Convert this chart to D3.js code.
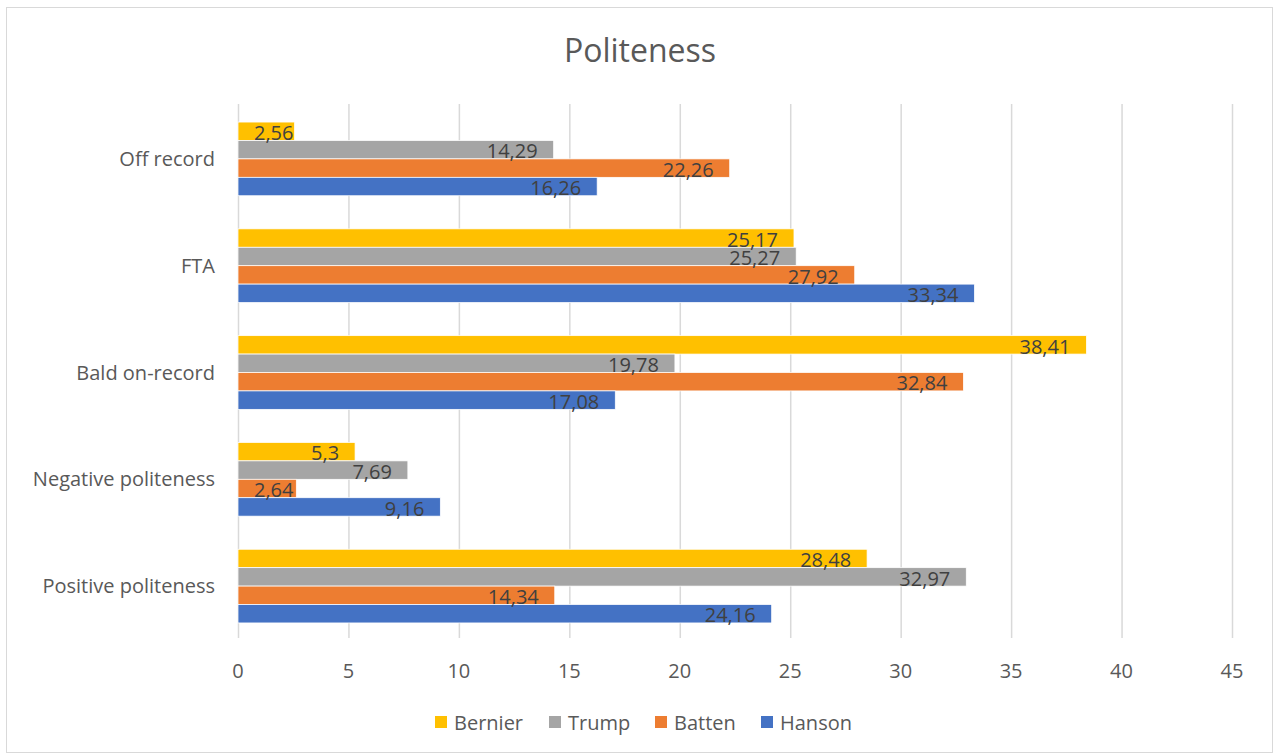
<!DOCTYPE html>
<html><head><meta charset="utf-8">
<script src="https://cdn.jsdelivr.net/npm/d3@7"></script>
<style>body{margin:0;background:#fff;} svg{display:block;font-family:"Open Sans","Noto Sans",sans-serif;}</style>
</head><body>
<svg id="c" width="1276" height="756"></svg>
<script>
const categories = ["Off record","FTA","Bald on-record","Negative politeness","Positive politeness"];
const seriesNames = ["Bernier","Trump","Batten","Hanson"];
const bernier = [2.56,25.17,38.41,5.3,28.48];
const trump = [14.29,25.27,19.78,7.69,32.97];
const batten = [22.26,27.92,32.84,2.64,14.34];
const hanson = [16.26,33.34,17.08,9.16,24.16];
const colors = ["#FFC000","#A5A5A5","#ED7D31","#4472C4"];
const ticks = [0,5,10,15,20,25,30,35,40,45];
const labels = ["2,56","25,17","38,41","5,3","28,48","14,29","25,27","19,78","7,69","32,97","22,26","27,92","32,84","2,64","14,34","16,26","33,34","17,08","9,16","24,16"];
const seriesVals = [bernier,trump,batten,hanson];

const svg = d3.select("#c");
svg.append("rect").attr("x",6.5).attr("y",7.5).attr("width",1266).attr("height",745)
  .attr("fill","#fff").attr("stroke","#d9d9d9");

const x = d3.scaleLinear().domain([0,45]).range([238,1232]);
const y = d3.scaleBand().domain(categories).range([105.5,639.5]).paddingInner(0.31).paddingOuter(0.155);
const ys = d3.scaleBand().domain(seriesNames).range([0,y.bandwidth()]);

svg.append("text").attr("x",640).attr("y",62).attr("text-anchor","middle")
  .attr("font-size",32).attr("fill","#595959").text("Politeness");

// gridlines
svg.append("g").selectAll("line").data(ticks).join("line")
  .attr("x1",d=>x(d)+0.5).attr("x2",d=>x(d)+0.5).attr("y1",104).attr("y2",638)
  .attr("stroke","#d9d9d9").attr("stroke-width",1.5);

// x tick labels
svg.append("g").selectAll("text").data(ticks).join("text")
  .attr("x",d=>x(d)).attr("y",678).attr("text-anchor","middle")
  .attr("font-size",20).attr("fill","#595959").text(d=>d);

// category labels
svg.append("g").selectAll("text").data(categories).join("text")
  .attr("x",215).attr("y",d=>y(d)+y.bandwidth()/2+7).attr("text-anchor","end")
  .attr("font-size",20).attr("fill","#595959").text(d=>d);

// bars
const rows = [];
seriesNames.forEach((s,si)=>{
  categories.forEach((c,ci)=>{
    rows.push({s,si,c,v:seriesVals[si][ci],lab:labels[si*5+ci]});
  });
});
svg.append("g").selectAll("rect").data(rows).join("rect")
  .attr("x",x(0)).attr("y",d=>y(d.c)+ys(d.s))
  .attr("width",d=>x(d.v)-x(0)).attr("height",ys.bandwidth())
  .attr("fill",d=>colors[d.si]).attr("stroke","#fff").attr("stroke-width",0.75);

const lg = svg.append("g");
lg.selectAll("text").data(rows).join("text")
  .attr("font-size",20).attr("fill","#404040").attr("text-anchor","end")
  .attr("y",d=>y(d.c)+ys(d.s)+ys.bandwidth()-0.5)
  .text(d=>d.lab)
  .each(function(d){
    const w=this.getComputedTextLength();
    const end=Math.max(x(d.v)-16, x(0)+16+w);
    d3.select(this).attr("x",end);
  });

// legend
const legX = [435,549,655,761];
const leg = svg.append("g");
seriesNames.forEach((s,i)=>{
  leg.append("rect").attr("x",legX[i]).attr("y",716).attr("width",12).attr("height",12).attr("fill",colors[i]);
  leg.append("text").attr("x",legX[i]+19).attr("y",730).attr("font-size",20).attr("fill","#595959").text(s);
});
</script>
</body></html>
